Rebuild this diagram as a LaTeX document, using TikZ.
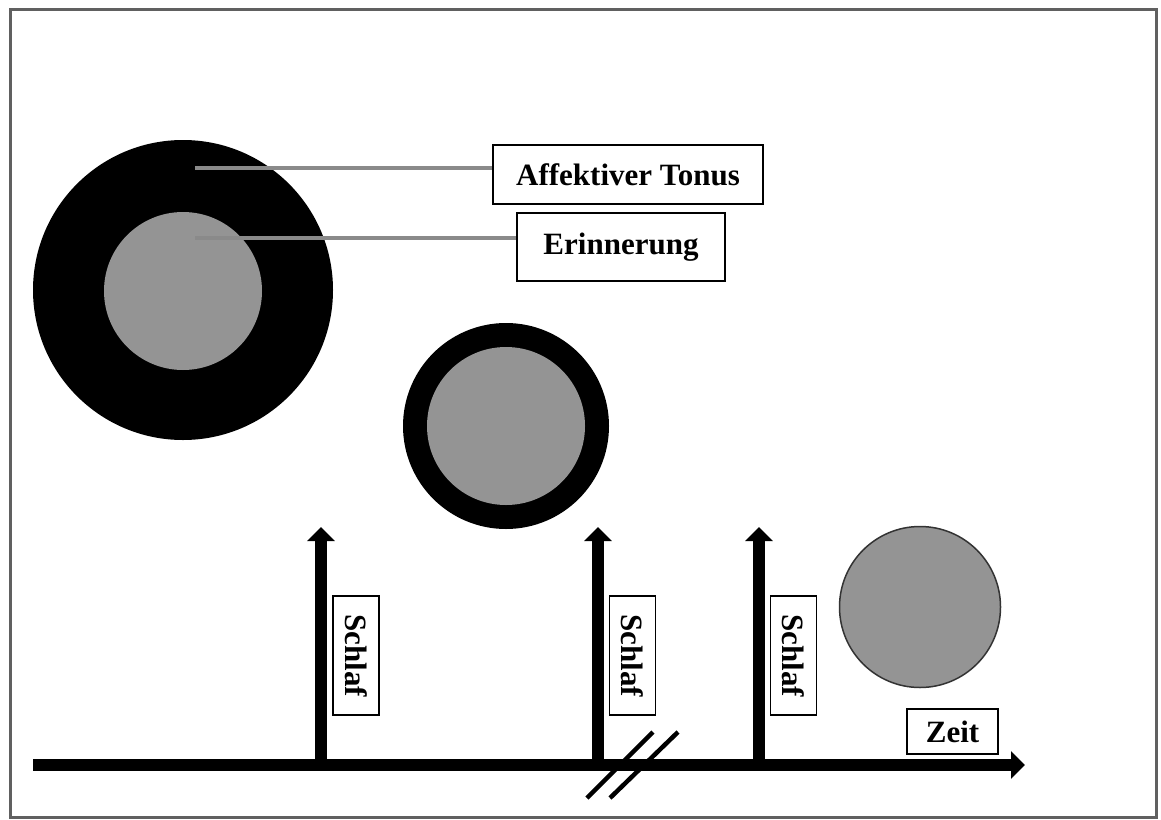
\documentclass[tikz,border=0pt]{standalone}
\usepackage{fontspec}
\setmainfont{Liberation Serif}
\usetikzlibrary{arrows.meta}

\definecolor{discgray}{RGB}{148,148,148}
\definecolor{framegray}{RGB}{96,96,96}
\definecolor{leadergray}{RGB}{138,138,138}

\tikzset{
  labelbox/.style={draw=black, line width=1.3pt, fill=white, inner sep=0pt,
    font=\fontsize{31}{36}\selectfont\bfseries},
  ring/.style={circle, fill=black, inner sep=0pt},
  core/.style={circle, fill=discgray, inner sep=0pt},
  leader/.style={draw=leadergray, line width=3.5pt},
  bigarrow/.style={line width=12pt, -{Triangle[width=27pt,length=14pt]}},
  breakmark/.style={line width=4.5pt},
}

\begin{document}
\begin{tikzpicture}[x=1pt, y=-1pt]
  \useasboundingbox (0,0) rectangle (1161,819);
  \fill[white] (0,0) rectangle (1161,819);

  % outer frame
  \draw[framegray, line width=3pt] (10,9) rectangle (1156,817);

  % large disc: strong affective tone around the memory
  \node[ring, minimum size=300pt] (outerA) at (183,290) {};
  \node[core, minimum size=158pt] (innerA) at (183,291) {};

  % medium disc after first sleep
  \node[ring, minimum size=206pt] (outerB) at (506,426) {};
  \node[core, minimum size=158pt] (innerB) at (506,426) {};

  % memory alone
  \node[core, draw=black!80, line width=1.5pt, minimum size=161pt] (innerC) at (920,607) {};

  % labels with leader lines
  \node[labelbox, minimum width=270pt, minimum height=59pt] (tonus) at (628,174.5) {Affektiver Tonus};
  \node[labelbox, minimum width=208pt, minimum height=68pt] (erinn) at (621,247) {Erinnerung};
  \coordinate (tonusPt) at (195,168);
  \coordinate (erinnPt) at (195,238);
  \draw[leader] (tonusPt) -- (tonusPt -| tonus.west);
  \draw[leader] (erinnPt) -- (erinnPt -| erinn.west);

  % time axis
  \coordinate (axisStart) at (33,765);
  \coordinate (axisEnd) at (1025,765);
  \draw[bigarrow] (axisStart) -- (axisEnd);

  % sleep arrows
  \coordinate (s1b) at (321,760); \coordinate (s1t) at (321,527);
  \coordinate (s2b) at (598,760); \coordinate (s2t) at (598,527);
  \coordinate (s3b) at (759,760); \coordinate (s3t) at (759,527);
  \draw[bigarrow] (s1b) -- (s1t);
  \draw[bigarrow] (s2b) -- (s2t);
  \draw[bigarrow] (s3b) -- (s3t);

  % sleep labels
  \node[labelbox, rotate=-90, minimum width=119pt, minimum height=46pt] (sl1) at (356,655.5) {Schlaf};
  \node[labelbox, rotate=-90, minimum width=119pt, minimum height=46pt] (sl2) at (632.5,655.5) {Schlaf};
  \node[labelbox, rotate=-90, minimum width=119pt, minimum height=46pt] (sl3) at (793.5,655.5) {Schlaf};

  % time label
  \node[labelbox, minimum width=91pt, minimum height=45pt] (zeit) at (952.5,731.5) {Zeit};

  % break in the time axis
  \coordinate (b1a) at (587,798); \coordinate (b1b) at (653,732);
  \coordinate (b2a) at (610,798); \coordinate (b2b) at (678,732);
  \draw[breakmark] (b1a) -- (b1b);
  \draw[breakmark] (b2a) -- (b2b);
\end{tikzpicture}
\end{document}
